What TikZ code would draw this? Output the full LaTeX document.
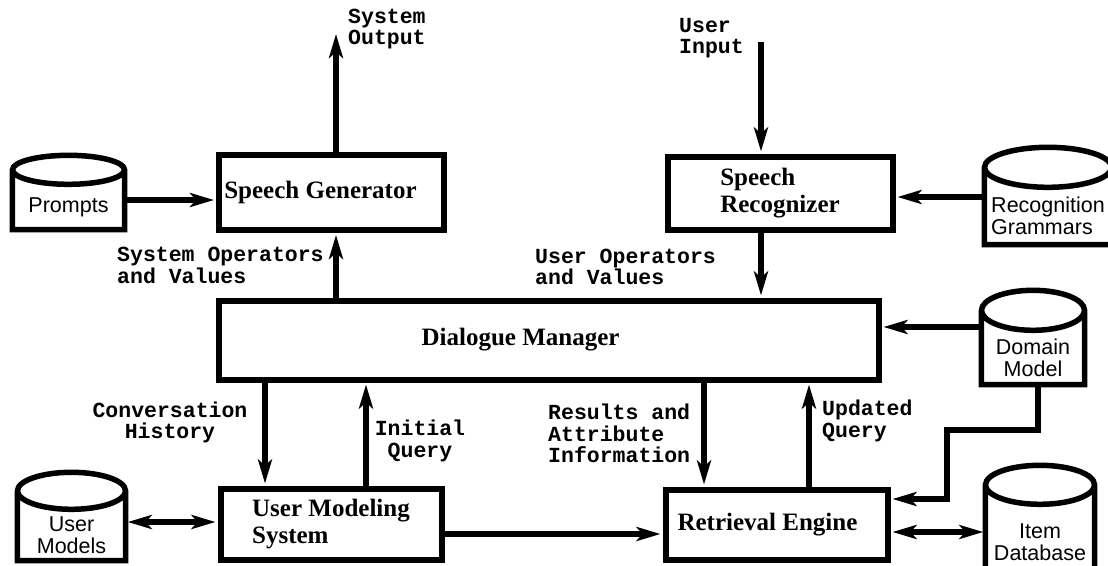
\documentclass[tikz,border=0pt]{standalone}
\usepackage{fontspec}
\setmainfont{Liberation Serif}
\newfontfamily\helvfont{Liberation Sans}
\newfontfamily\courfont{Liberation Mono}
\usetikzlibrary{arrows.meta}

\begin{document}
\begin{tikzpicture}[x=1pt, y=-1pt,
        box/.style={draw, line width=6pt, inner sep=0pt, font=\bfseries\fontsize{25}{27}\selectfont},
        dbbody/.style={inner sep=0pt, align=center, font=\helvfont\fontsize{21.5}{22}\selectfont},
        dbline/.style={line width=5.5pt},
        tip/.style={Stealth[length=24pt, width=14pt, inset=6pt, sep=2pt]},
        flow/.style={line width=6pt, -{Stealth[length=24pt, width=14pt, inset=6pt, sep=2pt]}},
        bflow/.style={line width=6pt, {Stealth[length=24pt, width=14pt, inset=6pt, sep=2pt]}-{Stealth[length=24pt, width=14pt, inset=6pt, sep=2pt]}},
        tag/.style={inner sep=0pt, align=left, font=\courfont\bfseries\fontsize{21.5}{21.5}\selectfont}]
        \useasboundingbox (0,0) rectangle (1108,565);
        \clip (0,0) rectangle (1108,565);

        % Moduli
        \node[box, minimum width=225pt, minimum height=75pt] (sg) at (331.5,192.5) {Speech Generator\hspace*{22pt}};
        \node[box, minimum width=225pt, minimum height=73pt, align=left] (sr) at (780,193) {Speech\\Recognizer};
        \node[box, minimum width=660pt, minimum height=79pt] (dm) at (548.5,340) {Dialogue Manager\hspace*{56pt}};
        \node[box, minimum width=221pt, minimum height=71pt, align=left] (ums) at (331,524) {User Modeling\\System};
        \node[box, minimum width=222pt, minimum height=70pt] (re) at (776.5,524.5) {Retrieval Engine\hspace*{18pt}};

        % Basi di dati (corpo sotto l'ellisse)
        \node[dbbody, minimum width=112pt, minimum height=45pt] (prompts) at (68.5,207) {Prompts};
        \node[dbbody, minimum width=127pt, minimum height=57pt, align=left] (grammars) at (1048,216) {Recognition\\Grammars};
        \node[dbbody, minimum width=103pt, minimum height=54pt] (domain) at (1033,357.5) {Domain\\Model};
        \node[dbbody, minimum width=109pt, minimum height=75pt] (itemdb) at (1040,542) {Item\\Database};
        \node[dbbody, minimum width=108pt, minimum height=51pt] (umodels) at (71.5,535) {User\\Models};

        \foreach \db/\rx/\ry in {prompts/56/14.5, grammars/63.5/20, domain/51.5/20, itemdb/54.5/19.5, umodels/54/18.5}
            \draw[dbline] ([yshift=\ry pt]\db.north west) -- (\db.south west) -- (\db.south east) -- ([yshift=\ry pt]\db.north east)
                ([yshift=\ry pt]\db.north) ellipse [x radius=\rx pt, y radius=\ry pt];

        % Ingresso e uscita
        \coordinate (sysout) at (336,32);
        \coordinate (usrin) at (761,42);

        \draw[flow] (sg.north -| sysout) -- (sysout);
        \draw[flow] (usrin) -- (usrin |- sr.north);
        \draw[flow] (sr.south -| usrin) -- (dm.north -| usrin);
        \draw[flow] (dm.north -| sysout) -- (sg.south -| sysout);

        \draw[flow] (prompts.east |- 0,200) -- (sg.west |- 0,200);
        \draw[flow] (grammars.west |- 0,197) -- (sr.east |- 0,197);
        \draw[flow] (domain.west |- 0,327) -- (dm.east |- 0,327);

        \draw[flow] (dm.south -| 265,0) -- (ums.north -| 265,0);
        \draw[flow] (ums.north -| 366,0) -- (dm.south -| 366,0);
        \draw[flow] (dm.south -| 704,0) -- (re.north -| 704,0);
        \draw[flow] (re.north -| 809,0) -- (dm.south -| 809,0);

        \draw[bflow] (umodels.east |- 0,522) -- (ums.west |- 0,522);
        \draw[flow] (ums.east |- 0,534) -- (re.west |- 0,534);
        \draw[bflow] (re.east |- 0,532) -- (itemdb.west |- 0,532);
        \draw[flow] (domain.south -| 1038,0) |- (947,430) |- (re.east |- 0,499);

        % Etichette
        \node[tag, anchor=west] (lsysout) at (348,29) {System\\Output};
        \node[tag, anchor=west] (lusrin) at (679,38) {User\\Input};
        \node[tag, anchor=west] (lsysop) at (117,265.5) {System Operators\\and Values};
        \node[tag, anchor=west] (lusrop) at (535,267) {User Operators\\and Values};
        \node[tag, align=center] (lhist) at (170,422.5) {Conversation\\History};
        \node[tag, align=center] (linit) at (420,441) {Initial\\Query};
        \node[tag, anchor=west] (lres) at (548,433.5) {Results and\\Attribute\\Information};
        \node[tag, anchor=west] (lupd) at (822,421) {Updated\\Query};
    \end{tikzpicture}
\end{document}
